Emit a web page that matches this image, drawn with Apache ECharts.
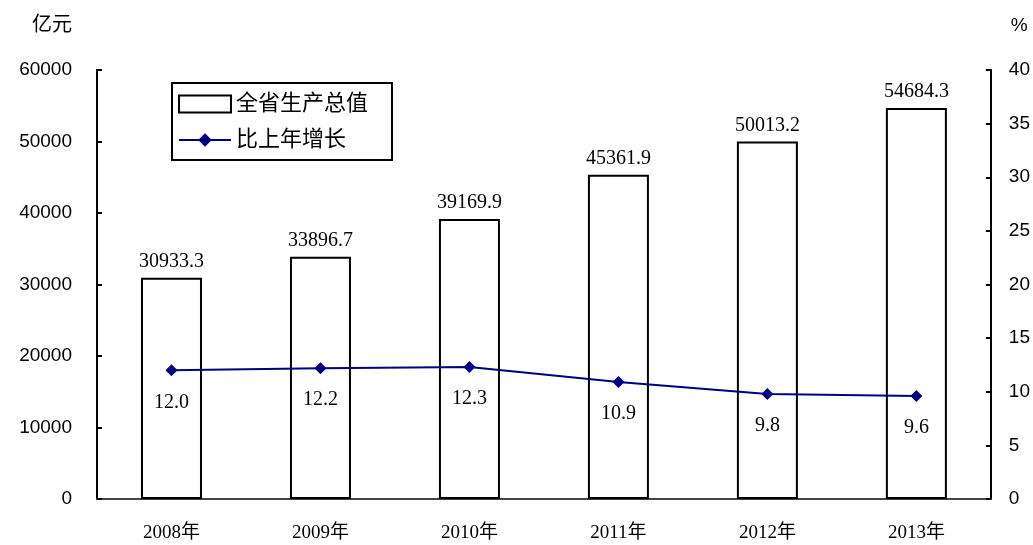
<!DOCTYPE html>
<html>
<head>
<meta charset="utf-8">
<script src="https://cdn.jsdelivr.net/npm/echarts@6/dist/echarts.min.js"></script>
<style>
  html, body { margin: 0; padding: 0; background: #fff; }
  #main { width: 1033px; height: 545px; }
</style>
</head>
<body>
<div id="main"></div>
<script>
// 数据
const years = ['2008年', '2009年', '2010年', '2011年', '2012年', '2013年'];
const gdpValues = [30933.3, 33896.7, 39169.9, 45361.9, 50013.2, 54684.3];
const growthValues = [12.0, 12.2, 12.3, 10.9, 9.8, 9.6];

const serif = '"Liberation Serif", "Noto Sans CJK SC", serif';
const sans = '"Liberation Sans", "Noto Sans CJK SC", sans-serif';

const chart = echarts.init(document.getElementById('main'));

chart.setOption({
  backgroundColor: '#fff',
  animation: false,
  grid: { left: 97, right: 40, top: 70, bottom: 46 },
  legend: {
    left: 172,
    top: 83,
    orient: 'vertical',
    itemWidth: 52,
    itemHeight: 17,
    itemGap: 14,
    padding: [10, 24, 9, 6],
    borderColor: '#000',
    borderWidth: 2,
    textStyle: { fontFamily: sans, fontSize: 22, color: '#000' },
    data: [
      { name: '全省生产总值', icon: 'rect' },
      { name: '比上年增长' }
    ]
  },
  xAxis: {
    type: 'category',
    data: years,
    axisLine: { lineStyle: { color: '#444', width: 2 } },
    axisTick: { inside: true, length: 6, lineStyle: { color: '#000', width: 2 } },
    axisLabel: { fontFamily: serif, fontSize: 19, color: '#000', margin: 25 }
  },
  yAxis: [
    {
      type: 'value',
      name: '亿元',
      nameLocation: 'end',
      nameGap: 35,
      nameTextStyle: { fontFamily: sans, fontSize: 20, color: '#000', align: 'right', padding: [0, 25, 0, 0] },
      min: 0, max: 60000, interval: 10000,
      splitLine: { show: false },
      axisLine: { show: true, lineStyle: { color: '#000', width: 2 } },
      axisTick: { show: true, inside: true, length: 5, lineStyle: { color: '#000', width: 2 } },
      axisLabel: { fontFamily: sans, fontSize: 19, color: '#000', margin: 25, formatter: v => String(v) }
    },
    {
      type: 'value',
      name: '%',
      nameLocation: 'end',
      nameGap: 35,
      nameTextStyle: { fontFamily: sans, fontSize: 19, color: '#000', align: 'left', padding: [0, 0, 0, 20] },
      min: 0, max: 40, interval: 5,
      splitLine: { show: false },
      axisLine: { show: true, lineStyle: { color: '#000', width: 2 } },
      axisTick: { show: true, inside: true, length: 5, lineStyle: { color: '#000', width: 2 } },
      axisLabel: { fontFamily: sans, fontSize: 19, color: '#000', margin: 18 }
    }
  ],
  series: [
    {
      name: '全省生产总值',
      type: 'bar',
      data: gdpValues,
      barWidth: 61,
      itemStyle: { color: '#fff', borderColor: '#000', borderWidth: 2 },
      label: {
        show: true,
        position: 'top',
        distance: 6,
        fontFamily: serif,
        fontSize: 20,
        color: '#000',
        formatter: p => p.value.toFixed(1)
      }
    },
    {
      name: '比上年增长',
      type: 'line',
      yAxisIndex: 1,
      data: growthValues,
      symbol: 'diamond',
      symbolSize: 12,
      lineStyle: { color: '#000080', width: 2 },
      itemStyle: { color: '#000080' },
      label: {
        show: true,
        position: 'bottom',
        distance: 16,
        fontFamily: serif,
        fontSize: 20,
        color: '#000',
        formatter: p => p.value.toFixed(1)
      }
    }
  ]
});
</script>
</body>
</html>
